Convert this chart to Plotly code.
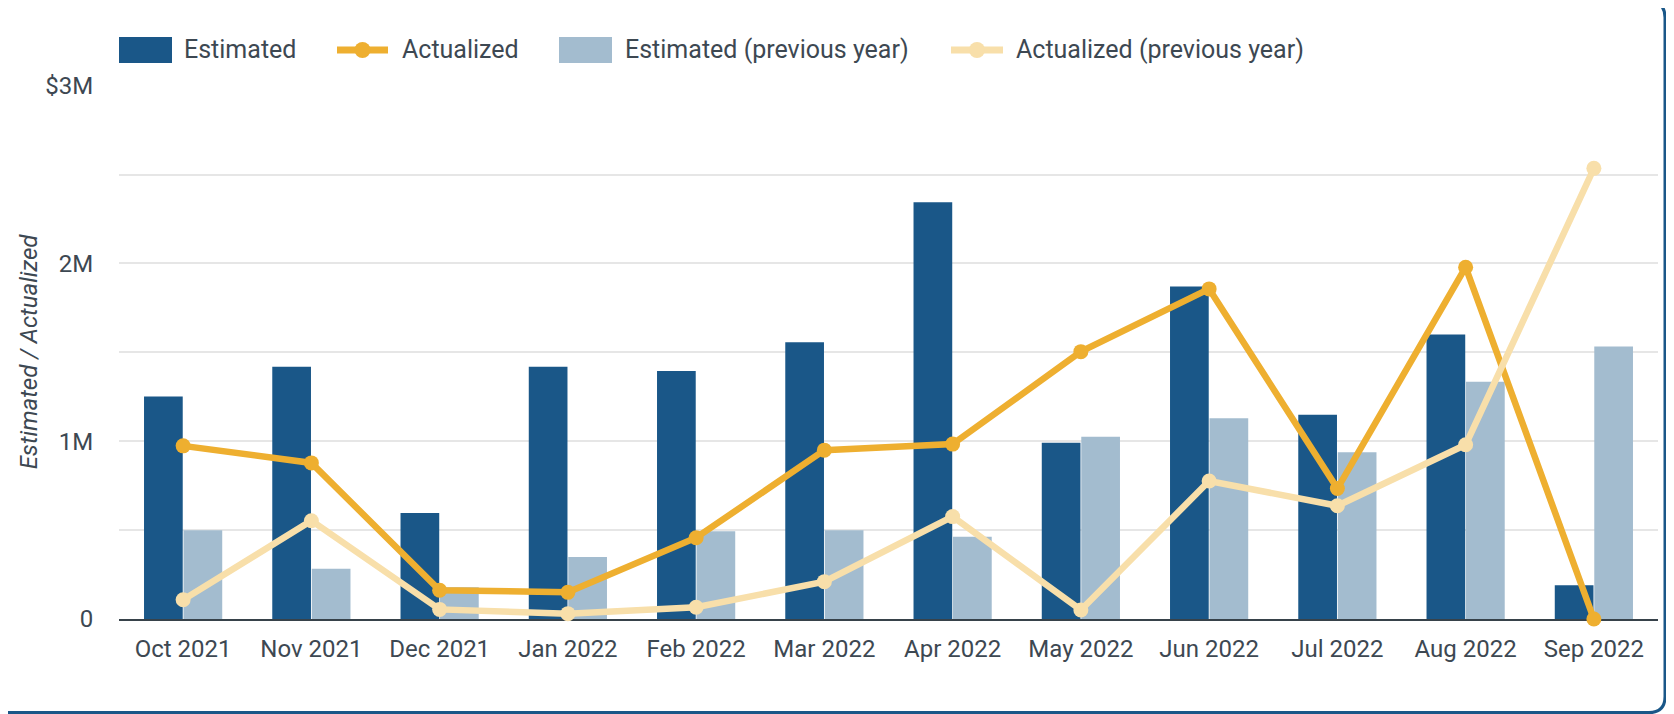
import plotly.graph_objects as go

months = ["Oct 2021", "Nov 2021", "Dec 2021", "Jan 2022", "Feb 2022", "Mar 2022",
          "Apr 2022", "May 2022", "Jun 2022", "Jul 2022", "Aug 2022", "Sep 2022"]
estimated = [1251000, 1419000, 597000, 1419000, 1395000, 1557000,
             2344000, 992000, 1870000, 1149000, 1600000, 190000]
actualized = [974000, 878000, 162000, 150000, 457000, 950000,
              984000, 1504000, 1857000, 734000, 1979000, 0]
estimated_prev = [499000, 283000, 179000, 349000, 493000, 499000,
                  462000, 1025000, 1130000, 938000, 1335000, 1533000]
actualized_prev = [108000, 553000, 54000, 30000, 66000, 210000,
                   576000, 51000, 776000, 637000, 980000, 2535000]
series_names = ["Estimated", "Actualized", "Estimated (previous year)", "Actualized (previous year)"]
y_tickvals = [0, 500000, 1000000, 1500000, 2000000, 2500000, 3000000]
y_ticktext = ["0", "", "1M", "", "2M", "", "$3M"]

# the page places the figure 8px in from the window corner
OFF = 8
W, H = 1674 - OFF, 714 - OFF
ML, MR, MT, MB = 119 - OFF, 16, 85 - OFF, 95
PW, PH = W - ML - MR, H - MT - MB

DARK = "#1A5788"
LIGHT = "#A3BCCF"
ORANGE = "#EEAF30"
PALE = "#F8DFAA"
TEXT = "#3D4852"
FONT = "Roboto"

fig = go.Figure()
fig.add_trace(go.Bar(x=months, y=estimated, name=series_names[0], marker_color=DARK,
                     marker_line_width=0))
fig.add_trace(go.Scatter(x=months, y=actualized, name=series_names[1], mode="lines+markers",
                         line=dict(color=ORANGE, width=6.5), marker=dict(size=15, color=ORANGE),
                         cliponaxis=False))
fig.add_trace(go.Bar(x=months, y=estimated_prev, name=series_names[2],
                     marker_color=LIGHT, marker_line_width=0))
fig.add_trace(go.Scatter(x=months, y=actualized_prev, name=series_names[3],
                         mode="lines+markers",
                         line=dict(color=PALE, width=6.5), marker=dict(size=15, color=PALE),
                         cliponaxis=False))


def px_x(p):
    # p is a window pixel position
    return (p - OFF - ML) / PW


def px_y(p):
    return (H - MB - (p - OFF)) / PH


# rounded frame around the card
x0, x1, y0, y1, r = -9.0, 1665.0, 1.5, 712.5, 16
pts = [
    ("M", x0 + r, y0), ("L", x1 - r, y0), ("Q", x1, y0, x1, y0 + r),
    ("L", x1, y1 - r), ("Q", x1, y1, x1 - r, y1), ("L", x0 + r, y1),
    ("Q", x0, y1, x0, y1 - r), ("L", x0, y0 + r), ("Q", x0, y0, x0 + r, y0),
]
path = ""
for p in pts:
    coords = p[1:]
    s = [f"{px_x(coords[i]):.5f},{px_y(coords[i+1]):.5f}" for i in range(0, len(coords), 2)]
    path += p[0] + " ".join(s) + " "
path += "Z"
fig.add_shape(type="path", path=path, xref="paper", yref="paper",
              line=dict(color=DARK, width=3), fillcolor="rgba(0,0,0,0)", layer="above")

# legend (custom, to reproduce the large swatches)
LEG_Y = 50
legend_items = [
    ("bar", DARK, 119, 172, 182),
    ("line", ORANGE, 337, 388, 400),
    ("bar", LIGHT, 559, 612, 623),
    ("line", PALE, 951, 1003, 1014),
]
for (kind, col, sx0, sx1, tx), name in zip(legend_items, series_names):
    if kind == "bar":
        fig.add_shape(type="rect", xref="paper", yref="paper",
                      x0=px_x(sx0), x1=px_x(sx1), y0=px_y(LEG_Y + 13), y1=px_y(LEG_Y - 13),
                      fillcolor=col, line_width=0)
    else:
        fig.add_shape(type="line", xref="paper", yref="paper",
                      x0=px_x(sx0), x1=px_x(sx1), y0=px_y(LEG_Y), y1=px_y(LEG_Y),
                      line=dict(color=col, width=7))
        cx = (sx0 + sx1) / 2
        fig.add_shape(type="circle", xref="paper", yref="paper",
                      x0=px_x(cx - 8), x1=px_x(cx + 8), y0=px_y(LEG_Y + 8), y1=px_y(LEG_Y - 8),
                      fillcolor=col, line_width=0)
    fig.add_annotation(text=name, xref="paper", yref="paper", x=px_x(tx), y=px_y(LEG_Y),
                       xanchor="left", yanchor="middle", showarrow=False,
                       font=dict(size=25, color=TEXT, family=FONT))

fig.update_layout(
    width=W, height=H,
    margin=dict(l=ML, r=MR, t=MT, b=MB, pad=0),
    paper_bgcolor="white", plot_bgcolor="white",
    font=dict(family=FONT, color=TEXT, size=24),
    barmode="group", bargap=0.384, bargroupgap=0.02,
    showlegend=False,
    xaxis=dict(range=[-0.5, 11.5], showgrid=False, showline=True, linecolor="#37424A",
               linewidth=2, ticks="outside", ticklen=7, tickcolor="rgba(0,0,0,0)",
               tickfont=dict(size=24, color=TEXT), zeroline=False, automargin=False,
               layer="below traces"),
    yaxis=dict(range=[0, 3004000], tickvals=y_tickvals, ticktext=y_ticktext,
               showgrid=True, gridcolor="#E6E6E6", gridwidth=2, zeroline=False,
               ticks="outside", ticklen=20, tickcolor="rgba(0,0,0,0)",
               tickfont=dict(size=24, color=TEXT), automargin=False,
               title=dict(text="<i>Estimated / Actualized</i>", font=dict(size=24, color=TEXT),
                          standoff=0)),
    hovermode=False,
)

fig.write_html("out.html")
